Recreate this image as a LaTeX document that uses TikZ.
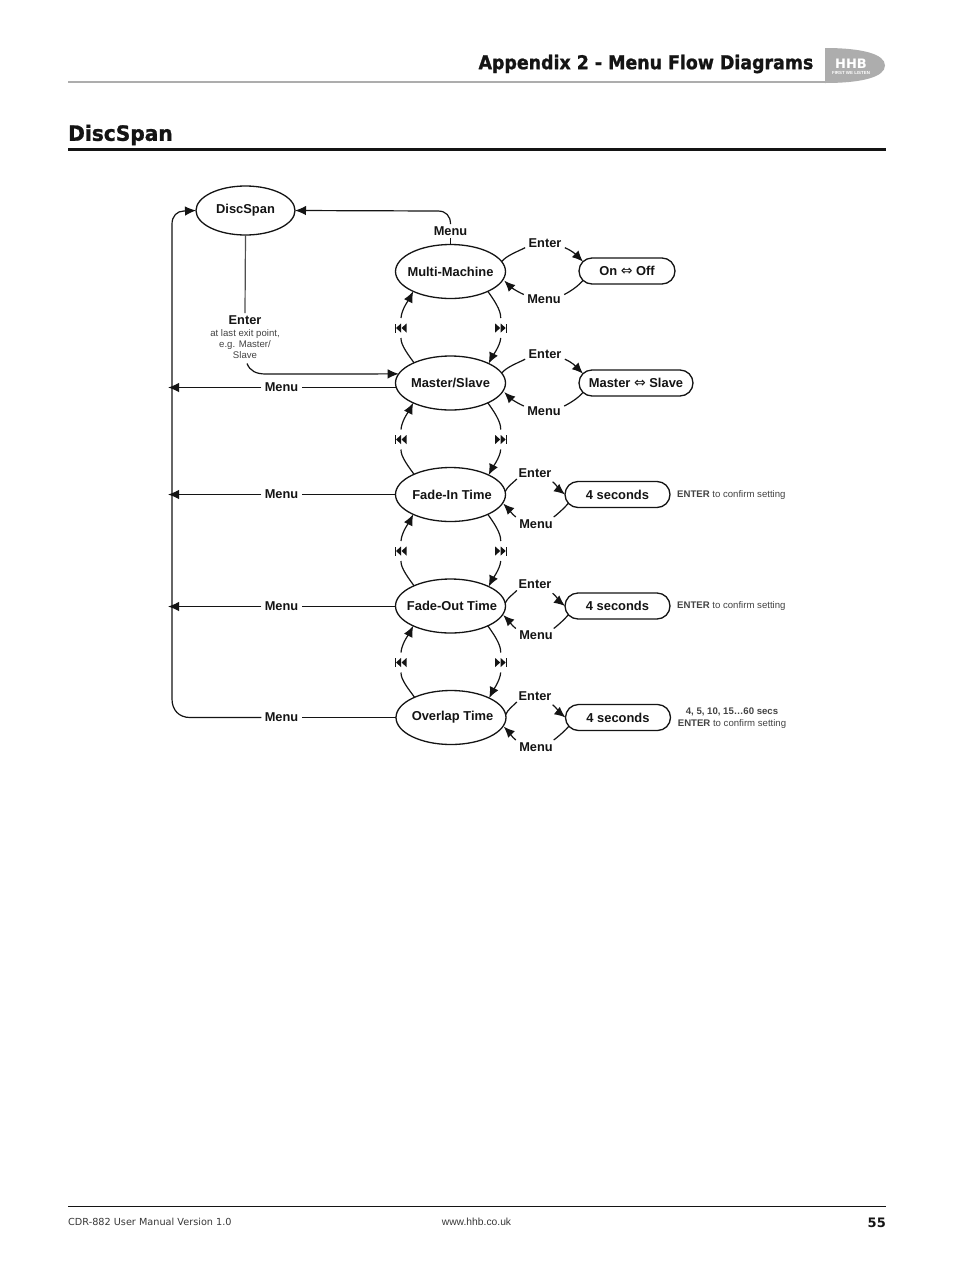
\documentclass[tikz,border=0pt]{standalone}
\usepackage{fontspec}
\usetikzlibrary{arrows.meta,shapes.geometric,shapes.misc}
\setmainfont{Liberation Sans}
\newfontfamily\hdfont{DejaVu Sans}
\newfontfamily\hdheavy[BoldFeatures={FakeBold=1.2,FakeStretch=0.915}]{DejaVu Sans}
\newfontfamily\ttlheavy[BoldFeatures={FakeBold=1.2,FakeStretch=0.96}]{DejaVu Sans}
\newcommand{\dbl}{{\hdfont\mdseries\fontsize{14}{14}\selectfont ⇔}}
\newcommand{\stt}[1]{\makebox[0pt]{#1}}
\definecolor{rulegray}{gray}{0.68}
\definecolor{logogray}{gray}{0.68}
\definecolor{ink}{gray}{0.08}
\tikzset{
  state/.style={ellipse,draw=ink,line width=1.3pt,inner sep=0pt,outer sep=0pt,minimum width=110pt,minimum height=54pt,font=\fontsize{12.9}{14}\selectfont\bfseries,text=ink},
  valuebox/.style={rounded rectangle,draw=ink,line width=1.3pt,inner sep=0pt,outer sep=0pt,minimum height=26pt,font=\fontsize{12.9}{14}\selectfont\bfseries,text=ink},
  lab/.style={inner sep=0pt,outer xsep=3.5pt,outer ysep=2.5pt,font=\fontsize{12.8}{14}\selectfont\bfseries,text=ink},
  note/.style={inner sep=0pt,align=center,font=\fontsize{9.6}{11.6}\selectfont,text=ink!80!white},
  conn/.style={line width=1.2pt,draw=ink},
  arr/.style={conn,-{Latex[length=11pt,width=9.5pt]}},
  pics/prevmark/.style={code={
    \fill[ink] (-6,-4.5) rectangle (-5,4.5);
    \fill[ink] (-5,0) -- (0,-4.5) -- (0,4.5) -- cycle;
    \fill[ink] (0.5,0) -- (5.5,-4.5) -- (5.5,4.5) -- cycle;}},
  pics/nextmark/.style={code={
    \fill[ink] (5,-4.5) rectangle (6,4.5);
    \fill[ink] (5,0) -- (0,-4.5) -- (0,4.5) -- cycle;
    \fill[ink] (-0.5,0) -- (-5.5,-4.5) -- (-5.5,4.5) -- cycle;}},
}
\begin{document}
\begin{tikzpicture}[x=1pt,y=-1pt]
\useasboundingbox[fill=white] (0,0) rectangle (954,1275);

% page furniture
\coordinate (hrA) at (68,82); \coordinate (hrB) at (826,82);
\draw[rulegray,line width=1.4pt] (hrA) -- (hrB);
\fill[logogray] (825,48) .. controls (862,48) and (885,54) .. (885,65.5) .. controls (885,77) and (862,83) .. (825,83) -- cycle;
\node[inner sep=0pt,text=white,font=\hdfont\bfseries\fontsize{13}{13}\selectfont] (logo) at (851,63.5) {HHB};
\node[inner sep=0pt,text=white,font=\bfseries\fontsize{4.4}{5}\selectfont] (logotag) at (851,73) {FIRST WE LISTEN};
\node[anchor=east,inner sep=0pt,text=ink,font=\hdheavy\bfseries\fontsize{19}{20}\selectfont] (apx) at (813.5,64) {Appendix 2 - Menu Flow Diagrams};
\node[anchor=west,inner sep=0pt,text=ink,font=\ttlheavy\bfseries\fontsize{21}{24}\selectfont] (title) at (68,135) {DiscSpan};
\coordinate (trA) at (68,149.5); \coordinate (trB) at (886,149.5);
\draw[ink,line width=2.6pt] (trA) -- (trB);
\coordinate (frA) at (68,1206); \coordinate (frB) at (886,1206);
\draw[ink,line width=0.8pt] (frA) -- (frB);
\node[anchor=west,inner sep=0pt,text=ink!85!white,font=\hdfont\fontsize{9.7}{10}\selectfont] (foot) at (68,1222) {CDR-882 User Manual Version 1.0};
\node[inner sep=0pt,text=ink!85!white,font=\fontsize{10.3}{10}\selectfont] (web) at (476.5,1222) {www.hhb.co.uk};
\node[anchor=east,inner sep=0pt,text=ink,font=\hdfont\bfseries\fontsize{13}{13}\selectfont] (page) at (886,1222.5) {55};

% states
\node[state,minimum width=99pt,minimum height=49pt] (ds) at (245.5,210.5) {\stt{DiscSpan}};
\node[state] (s1) at (450.5,271.5) {\stt{Multi-Machine}};
\node[state] (s2) at (450.5,383) {\stt{Master/Slave}};
\node[state] (s3) at (450.5,494.5) {\stt{\hspace*{3pt}Fade-In Time}};
\node[state] (s4) at (450.5,606) {\stt{\hspace*{3pt}Fade-Out Time}};
\node[state] (s5) at (451,717.5) {\stt{\hspace*{3pt}Overlap Time}};

% value boxes
\node[valuebox,minimum width=96pt] (v1) at (627,271) {On \dbl{} Off};
\node[valuebox,minimum width=114pt] (v2) at (636,383) {Master \dbl{} Slave};
\node[valuebox,minimum width=105pt] (v3) at (617.5,494.5) {4 seconds};
\node[valuebox,minimum width=105pt] (v4) at (617.5,606) {4 seconds};
\node[valuebox,minimum width=105pt] (v5) at (618,717.5) {4 seconds};

% notes
\node[note,anchor=west] (n3) at (677,495) {\textbf{ENTER} to confirm setting};
\node[note,anchor=west] (n4) at (677,606.5) {\textbf{ENTER} to confirm setting};
\node[note,font=\fontsize{9.6}{11.4}\selectfont] (n5) at (732,718) {\textbf{4, 5, 10, 15\ldots60 secs}\\\textbf{ENTER} to confirm setting};

% DiscSpan / left bus
\node[lab] (mtop) at (450.5,231) {Menu};
\draw[conn] (s1.north) -- (mtop.south);
\draw[arr] (mtop.north) .. controls +(0,-8) and +(8,0) .. (438,211) -- (ds.east);
\node[lab] (ent) at (245,320) {Enter};
\node[note,font=\fontsize{9.6}{11}\selectfont,anchor=north] (entn) at (245,329) {at last exit point,\\e.g. Master/\\Slave};
\draw[conn,draw=ink!75!white] (ds.south) -- (ent.north);
\coordinate (entout) at (247,363.5);
\draw[arr] (entout) .. controls (250,371) and (256,374) .. (266,374) -- (s2.170);

\node[lab] (m2) at (281.5,387.5) {Menu};
\node[lab] (m3) at (281.5,494.5) {Menu};
\node[lab] (m4) at (281.5,606.5) {Menu};
\node[lab] (m5) at (281.5,717.5) {Menu};
\draw[conn] (s2.west |- m2) -- (m2.east);
\draw[conn] (s3.west |- m3) -- (m3.east);
\draw[conn] (s4.west |- m4) -- (m4.east);
\draw[conn] (s5.west |- m5) -- (m5.east);
\coordinate (a2) at (168,387.5); \coordinate (a3) at (168,494.5); \coordinate (a4) at (168,606.5);
\draw[arr] (m2.west) -- (a2);
\draw[arr] (m3.west) -- (a3);
\draw[arr] (m4.west) -- (a4);
\draw[arr] (m5.west) -- (190,717.5) .. controls (179,717.5) and (172,710) .. (172,699) -- (172,224) .. controls (172,216) and (177,211) .. (184,211) -- (ds.west);

% skip arcs
\foreach \up/\dn/\yy in {s1/s2/328,s2/s3/439.5,s3/s4/551,s4/s5/662.5}{
  \coordinate (p\up) at (401,\yy);
  \coordinate (q\up) at (500.7,\yy);
  \pic at (p\up) {prevmark};
  \pic at (q\up) {nextmark};
  \draw[conn] (\dn.151) .. controls +(-5,-7) and +(-0.5,7) .. ([yshift=-10pt]p\up);
  \draw[arr] ([yshift=10pt]p\up) .. controls +(0.5,-9) and +(-3,6) .. (\up.208);
  \draw[conn] (\up.-28) .. controls +(5,7) and +(0.5,-8) .. ([yshift=10pt]q\up);
  \draw[arr] ([yshift=-10pt]q\up) .. controls +(-0.5,8) and +(3,-6) .. (\dn.27);
}
% enter / menu loops
\foreach \s/\v/\ex/\ey/\mx/\my/\ain/\aout in {s1/v1/545/243/544/299.5/168/192,s2/v2/545/354.5/544/411/170/190}{
  \node[lab] (e\s) at (\ex,\ey) {Enter};
  \node[lab] (m\s) at (\mx,\my) {Menu};
  \draw[conn] (\s.11) .. controls +(5,-6) and +(-8,4) .. ([yshift=-4.7pt]e\s.west);
  \draw[arr] ([yshift=-4.7pt]e\s.east) .. controls +(8,3.5) and +(-7,-7) .. (\v.\ain);
  \draw[conn] (\v.\aout) .. controls +(-5,6) and +(6,-3) .. ([yshift=5pt]m\s.east);
  \draw[arr] ([yshift=5pt]m\s.west) .. controls +(-7,-3) and +(6,6) .. ([xshift=2pt]\s.-10);
}
\foreach \s/\v/\ex/\ey/\mx/\my in {s3/v3/535/473/536/524,s4/v4/535/584.5/536/635.5,s5/v5/535/696/536/747}{
  \node[lab] (e\s) at (\ex,\ey) {Enter};
  \node[lab] (m\s) at (\mx,\my) {Menu};
  \draw[conn] (\s.3) .. controls +(2,-5) and +(-4,4) .. ([xshift=1.7pt,yshift=-6pt]e\s.west);
  \draw[arr] ([xshift=-2.3pt,yshift=-8.7pt]e\s.east) .. controls +(4,3) and +(-5,-4) .. (\v.west);
  \draw[conn] (\v.190) .. controls +(-3,4) and +(4,-3) .. ([xshift=-2.5pt,yshift=7pt]m\s.east);
  \draw[arr] ([yshift=7pt]m\s.west) .. controls +(-4,-3) and +(4,4) .. ([xshift=1pt]\s.-10);
}
\end{tikzpicture}
\end{document}
